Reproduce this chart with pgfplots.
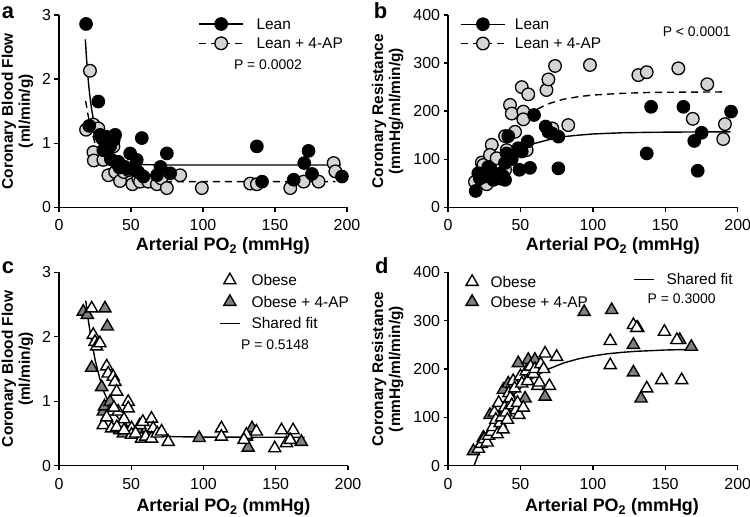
\documentclass[border=0pt]{standalone}
\usepackage{fontspec}
\setmainfont{Liberation Sans}
\usepackage{pgfplots}
\pgfplotsset{compat=1.18}
\definecolor{lgray}{RGB}{212,212,212}
\definecolor{dgray}{RGB}{128,128,128}
\pgfplotsset{
  gp/.style={
    scale only axis,
    axis lines=left,
    axis line style={-, line width=1.3bp, black},
    tick align=outside,
    major tick length=4.5bp,
    tick style={line width=1.3bp, black},
    xmin=0, xmax=200,
    xtick={0,50,100,150,200},
    minor tick num=0,
    tick label style={font=\fontsize{16}{16}\selectfont},
    xticklabel style={yshift=-4.5bp},
    /pgf/number format/assume math mode=true,
    clip=false,
    legend cell align=left,
    legend image code/.code={\draw[mark repeat=2,mark phase=2,##1] plot coordinates {(0bp,0bp) (22bp,0bp) (44bp,0bp)};},
    legend style={draw=none, fill=none, inner sep=0pt, row sep=4.6bp,
      font=\fontsize{15.5}{15.5}\selectfont,
      nodes={inner sep=0pt, text height=12.7bp, text depth=2bp}, anchor=north west},
    every axis y label/.style={at={([xshift=-41.5bp]axis description cs:0,0.5)}, rotate=90, anchor=center, align=center, font=\fontsize{15.5}{17}\selectfont\bfseries},
    every axis x label/.style={at={([yshift=-43.4bp]axis description cs:0.569,0)}, anchor=base, font=\fontsize{18}{18}\selectfont\bfseries},
    xlabel={Arterial PO\textsubscript{2} (mmHg)},
  },
  markonly legend/.style={legend image code/.code={\path (0bp,0bp) (20bp,0bp); \draw[##1] plot coordinates {(10bp,0bp)};}},
  shortline legend/.style={legend image code/.code={\draw[##1] (0bp,0bp) -- (20bp,0bp);}},
  lean/.style={only marks, mark=*, mark size=6.3bp, mark options={fill=black, draw=black, line width=1.1bp}},
  leanap/.style={only marks, mark=*, mark size=6.3bp, mark options={fill=lgray, draw=black, line width=1.3bp}},
  obese/.style={only marks, mark=triangle*, mark size=7bp, mark options={fill=white, draw=black, line width=1.4bp}},
  obeseap/.style={only marks, mark=triangle*, mark size=7bp, mark options={fill=dgray, draw=black, line width=1.4bp}},
  fit/.style={no marks, black, line width=1.4bp},
  fitdash/.style={no marks, black, line width=1.4bp, dash pattern=on 7bp off 5bp},
}
\begin{document}
\begin{tikzpicture}
\path[use as bounding box] (0,0) rectangle (750bp,517bp);

% ---------------- panel a ----------------
\begin{axis}[gp, at={(59bp,309.7bp)}, anchor=south west, width=288bp, height=192.3bp,
  ymin=0, ymax=3, ytick={0,1,2,3},
  ylabel={Coronary Blood Flow\\(ml/min/g)},
  legend style={at={(axis cs:96.7,2.977)}, column sep=12.7bp}]
\addlegendimage{black, line width=1.4bp, mark=*, mark size=6.3bp, mark options={solid, fill=black, draw=black, line width=1.1bp}}
\addlegendentry{Lean}
\addlegendimage{black, line width=1.4bp, dash pattern=on 7bp off 5bp, mark=*, mark size=6.3bp, mark options={solid, fill=lgray, draw=black, line width=1.3bp}}
\addlegendentry{Lean + 4-AP}
\addplot[leanap, forget plot] coordinates {
(18.8,1.21) (21.5,2.13) (23.9,1.29) (27.3,1.23) (23.9,0.86) (24.2,0.73) (30.8,0.74)
(34.3,0.50) (37.8,0.95) (39,0.55) (42.4,0.41) (45,0.55) (48.2,0.58) (51,0.36)
(55,0.45) (56.3,0.40) (62,0.40) (68,0.36) (71,0.45) (74.9,0.30) (84.1,0.50)
(99.2,0.30) (132.8,0.37) (137.4,0.36) (160.6,0.30) (169.9,0.40) (180.3,0.40)
(190.7,0.69) (191.9,0.56)};
\addplot[lean, forget plot] coordinates {
(18.8,2.86) (21,1.27) (27.3,1.65) (28.5,1.13) (30.8,0.89) (30,1.07) (33,1.10) (35.5,0.95)
(36,0.75) (38,1.05) (39,1.13) (40,0.69) (41.2,0.71) (42,0.62) (44.7,0.63) (45.9,0.63)
(48,0.6) (49.4,0.84) (52.8,0.63) (54,0.74) (55,0.55) (57.5,1.08) (58.6,0.48) (68,0.5)
(70.5,0.63) (74.9,0.84) (77.2,0.53) (137.4,0.95) (141,0.40) (163,0.43) (170.3,0.69)
(173.3,0.88) (175.7,0.52) (196.5,0.48)};
\addplot[fit, forget plot] coordinates {
(18.3,2.62) (19,2.36) (20,2.06) (21,1.82) (22,1.63) (23,1.48) (24,1.36) (25,1.26)
(27,1.11) (30,0.97) (33,0.87) (36,0.80) (40,0.745) (45,0.705) (50,0.683) (55,0.671)
(60,0.665) (70,0.661) (80,0.66) (196,0.66)};
\addplot[fitdash, forget plot] coordinates {
(18.5,1.66) (20,1.46) (22,1.24) (25,1.0) (28,0.83) (31,0.70) (35,0.59) (40,0.50)
(45,0.455) (50,0.43) (55,0.415) (60,0.408) (70,0.402) (80,0.40) (192,0.40)};
\node[font=\fontsize{14}{14}\selectfont] at (axis cs:145.1,2.22) {P = 0.0002};
\end{axis}

% ---------------- panel b ----------------
\begin{axis}[gp, at={(448bp,309.7bp)}, anchor=south west, width=289.7bp, height=192.3bp,
  ymin=0, ymax=400, ytick={0,100,200,300,400},
  ylabel={Coronary Resistance\\(mmHg/ml/min/g)},
  every axis y label/.append style={at={([xshift=-60.3bp]axis description cs:0,0.5)}},
  legend style={at={(axis cs:8.3,396.5)}, column sep=9.3bp}]
\addlegendimage{black, line width=1.4bp, mark=*, mark size=6.3bp, mark options={solid, fill=black, draw=black, line width=1.1bp}}
\addlegendentry{Lean}
\addlegendimage{black, line width=1.4bp, dash pattern=on 7bp off 5bp, mark=*, mark size=6.3bp, mark options={solid, fill=lgray, draw=black, line width=1.3bp}}
\addlegendentry{Lean + 4-AP}
\addplot[leanap, forget plot] coordinates {
(18.6,53) (23.3,93) (24.4,88) (26.7,48) (29,84) (30.2,130) (29,109) (33.6,102)
(36,60) (39.4,78) (39.4,148) (40.5,119) (42.8,213) (44,195) (46.3,157) (50.9,250)
(52,199) (52,183) (54.3,119) (55.4,235) (68,244) (69.3,266) (73.9,294) (72,164)
(83,171) (98,296) (131.4,275) (137.2,281) (159,289) (169,184) (179,256) (190,142)
(191.2,173)};
\addplot[lean, forget plot] coordinates {
(19.1,34) (20.9,71) (22,60) (25.5,64) (27.8,84) (29,81) (31.3,57) (33,66) (36,70)
(38.2,64) (39.4,57) (39.3,92) (40.5,112) (41.6,148) (44,100) (48.5,123) (49.3,78)
(50.9,116) (55,137) (56.6,82) (59.4,192) (67.4,168) (69.3,157) (71.6,154) (76.2,147)
(76.2,81) (137.2,112) (140.2,209) (162.5,209) (170,138) (172.4,76) (175.1,155)
(195.4,199)};
\addplot[fit, forget plot] coordinates {
(19,55) (25,72) (30,85) (35,97) (40,107) (45,116) (50,122) (55,128) (60,133)
(70,141) (80,147) (90,150) (100,152.5) (120,155) (140,156) (160,156.5) (195,157)};
\addplot[fitdash, forget plot] coordinates {
(19,55) (25,85) (30,110) (35,132) (40,150) (45,166) (50,179) (55,191) (60,202)
(70,216) (80,225) (90,230) (100,233.5) (120,237) (140,239) (160,239.5) (192,240)};
\node[font=\fontsize{14}{14}\selectfont] at (axis cs:171.7,365) {P < 0.0001};
\end{axis}

% ---------------- panel c ----------------
\begin{axis}[gp, at={(59bp,51.3bp)}, anchor=south west, width=289bp, height=193.4bp,
  ymin=0, ymax=3, ytick={0,1,2,3},
  ylabel={Coronary Blood Flow\\(ml/min/g)},
  every axis x label/.append style={at={([yshift=-45.6bp]axis description cs:0.569,0)}},
  legend style={at={(axis cs:110.7,2.994)}, column sep=11bp, row sep=7bp}]
\addlegendimage{markonly legend, obese}
\addlegendentry{Obese}
\addlegendimage{markonly legend, obeseap}
\addlegendentry{Obese + 4-AP}
\addlegendimage{shortline legend, fit}
\addlegendentry{Shared fit}
\addplot[obeseap, forget plot] coordinates {
(16.8,2.39) (19.6,2.34) (31.8,2.44) (33.4,2.16) (22.6,1.52) (29.5,1.22) (30.6,0.84)
(31.5,0.92) (35.3,0.99) (44.5,0.50) (42,0.55) (55,0.55) (62,0.45) (97,0.43)
(129.7,0.45) (130.9,0.28) (133.6,0.58) (160,0.40) (167.7,0.37)};
\addplot[obese, forget plot] coordinates {
(22.6,2.44) (23.7,2.03) (24.9,1.92) (26,1.85) (28.3,1.90) (33,1.54) (34,1.43)
(37.5,1.38) (38.7,1.30) (39.9,1.15) (35.3,0.84) (41,0.84) (47.9,0.99) (47.9,0.89)
(30.6,0.63) (36.4,0.58) (43.3,0.66) (45,0.72) (50.2,0.58) (50.2,0.48) (56,0.63)
(58,0.68) (64,0.73) (65.2,0.58) (57.1,0.42) (60,0.45) (64,0.42) (68,0.5) (71,0.53)
(75.6,0.37) (112.4,0.58) (112.4,0.45) (129.7,0.48) (128,0.40) (136.6,0.53)
(149.3,0.27) (154,0.55) (157.4,0.35) (162,0.55) (160,0.40) (40,0.6) (33,0.75)
(38,0.9) (45,0.55) (53,0.5)};
\addplot[fit, forget plot] coordinates {
(18.5,2.56) (20,2.30) (22,2.00) (25,1.64) (28,1.37) (31,1.15) (35,0.945) (40,0.767)
(45,0.651) (50,0.577) (60,0.497) (70,0.464) (80,0.45) (100,0.444) (170,0.44)};
\node[font=\fontsize{14}{14}\selectfont] at (axis cs:149.5,1.87) {P = 0.5148};
\end{axis}

% ---------------- panel d ----------------
\begin{axis}[gp, at={(448bp,51.3bp)}, anchor=south west, width=289.7bp, height=193.4bp,
  ymin=0, ymax=400, ytick={0,100,200,300,400},
  ylabel={Coronary Resistance\\(mmHg/ml/min/g)},
  every axis y label/.append style={at={([xshift=-60.3bp]axis description cs:0,0.5)}},
  every axis x label/.append style={at={([yshift=-45.6bp]axis description cs:0.566,0)}},
  legend style={at={(axis cs:9.46,395.8)}, column sep=8.3bp, row sep=5.3bp}]
\addlegendimage{markonly legend, obese}
\addlegendentry{Obese}
\addlegendimage{markonly legend, obeseap}
\addlegendentry{Obese + 4-AP}
\addplot[obeseap, forget plot] coordinates {
(17.5,30) (24.4,58) (29,105) (38.2,157) (41.6,170) (48.5,212) (55.4,219) (60,219)
(53.2,139) (67,143) (94,318) (113,322) (128,250) (128,193) (133.3,139) (160,260)
(168,246) (131,285)};
\addplot[obese, forget plot] coordinates {
(21,35) (23,45) (25,55) (27,48) (28,62) (30,70) (31,80) (32,110) (33,95) (34,65)
(35,130) (36,88) (37,100) (38,75) (39,120) (40,110) (41,95) (42,150) (43,140)
(44,125) (45,175) (46,160) (47,115) (48,130) (49,105) (50,185) (51,170) (52,120)
(54,195) (55,175) (57,205) (59,190) (60,200) (62,165) (64,210) (66,200) (67,232)
(70,165) (75,225) (63,172) (112,258) (112,208) (128,291) (130.3,285) (149.4,277)
(158,260) (147.5,177) (161.3,177) (137.2,160)};
\addplot[fit, forget plot] coordinates {
(18,0) (20,16) (25,51) (30,81) (35,106) (40,127.5) (45,145.4) (50,160.4) (55,173.2)
(60,184) (65,193) (70,200.7) (80,212.6) (90,221) (100,227) (110,231.4) (120,234.4)
(130,236.6) (150,239.3) (170,240.6)};
\node[font=\fontsize{14}{14}\selectfont] at (axis cs:161.3,346) {P = 0.3000};
\end{axis}
\begin{axis}[gp, at={(448bp,51.3bp)}, anchor=south west, width=289.7bp, height=193.4bp,
  ymin=0, ymax=400, hide axis, xlabel={}, ylabel={},
  legend style={at={(axis cs:127.7,401.3)}, column sep=12bp}]
\addlegendimage{shortline legend, fit}
\addlegendentry{Shared fit}
\end{axis}

\node[anchor=base west, inner sep=0pt, font=\fontsize{22}{22}\selectfont\bfseries] at (1.7bp,498.7bp) {a};
\node[anchor=base west, inner sep=0pt, font=\fontsize{22}{22}\selectfont\bfseries] at (373.7bp,498.7bp) {b};
\node[anchor=base west, inner sep=0pt, font=\fontsize{22}{22}\selectfont\bfseries] at (1.7bp,243.7bp) {c};
\node[anchor=base west, inner sep=0pt, font=\fontsize{22}{22}\selectfont\bfseries] at (375bp,243.7bp) {d};
\end{tikzpicture}
\end{document}
